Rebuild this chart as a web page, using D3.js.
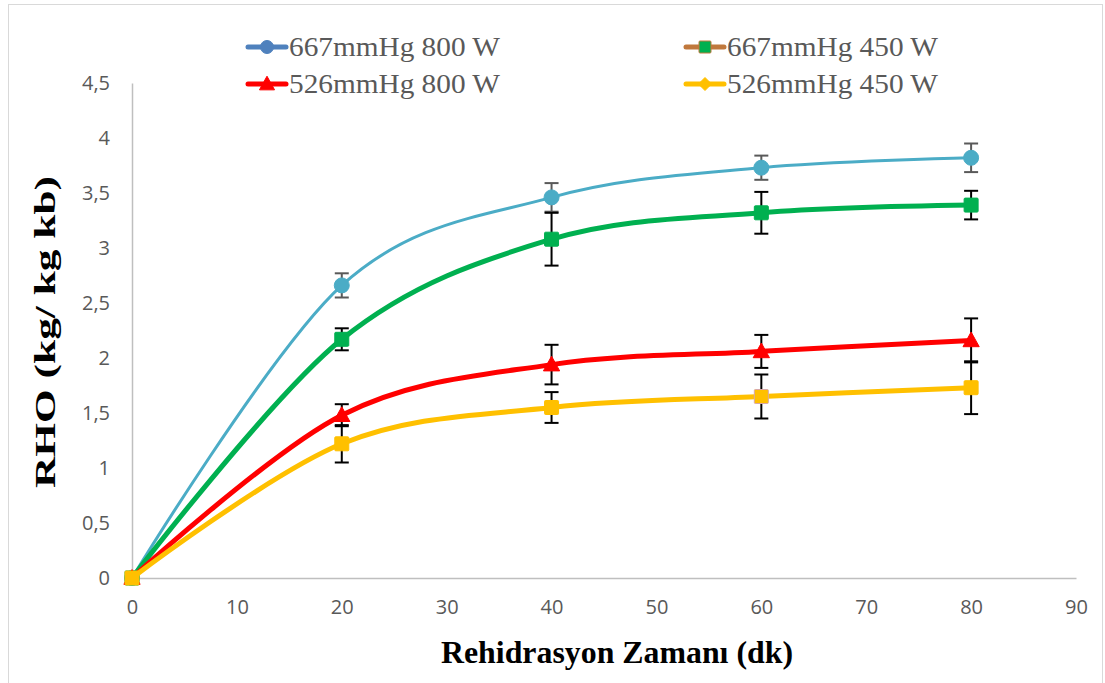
<!DOCTYPE html>
<html>
<head>
<meta charset="utf-8">
<script src="https://cdn.jsdelivr.net/npm/d3@7"></script>
<style>
  html, body { margin: 0; padding: 0; background: #ffffff; }
  svg { display: block; }
</style>
</head>
<body>
<svg id="chart" width="1105" height="683"></svg>
<script>
// Rehydration time (min)
const times = [0, 20, 40, 60, 80];

// RHO values (kg/kg dry basis) and standard deviations per series
const rho667_800 = [0, 2.66, 3.46, 3.73, 3.82];
const sd667_800  = [0, 0.11, 0.13, 0.11, 0.13];
const rho667_450 = [0, 2.17, 3.08, 3.32, 3.39];
const sd667_450  = [0, 0.10, 0.24, 0.19, 0.13];
const rho526_800 = [0, 1.48, 1.94, 2.06, 2.16];
const sd526_800  = [0, 0.10, 0.18, 0.15, 0.20];
const rho526_450 = [0, 1.22, 1.55, 1.65, 1.73];
const sd526_450  = [0, 0.17, 0.14, 0.20, 0.24];

const seriesNames = ["667mmHg 800 W", "667mmHg 450 W", "526mmHg 800 W", "526mmHg 450 W"];

const xTicks = [0, 10, 20, 30, 40, 50, 60, 70, 80, 90];
const yTicks = [0, 0.5, 1, 1.5, 2, 2.5, 3, 3.5, 4, 4.5];
const yTickLabels = ["0", "0,5", "1", "1,5", "2", "2,5", "3", "3,5", "4", "4,5"];

const series = [
  { name: seriesNames[0], values: rho667_800, sd: sd667_800, color: "#4BACC6", width: 3, marker: "circle", errColor: "#595959",
    legendLine: "#4F81BD", legendFill: "#4F81BD", legendStroke: "#4F81BD", legendMarker: "circle" },
  { name: seriesNames[1], values: rho667_450, sd: sd667_450, color: "#00B050", width: 5, marker: "square", errColor: "#000000",
    legendLine: "#C0783C", legendFill: "#00B050", legendStroke: "#C0783C", legendMarker: "square" },
  { name: seriesNames[2], values: rho526_800, sd: sd526_800, color: "#FF0000", width: 5, marker: "triangle", errColor: "#000000",
    legendLine: "#FF0000", legendFill: "#FF0000", legendStroke: "#FF0000", legendMarker: "triangle" },
  { name: seriesNames[3], values: rho526_450, sd: sd526_450, color: "#FFC000", width: 5, marker: "square", errColor: "#000000",
    legendLine: "#FFC000", legendFill: "#FFC000", legendStroke: "#FFC000", legendMarker: "diamond" }
];

const svg = d3.select("#chart");

// outer chart frame
svg.append("rect")
  .attr("x", 8.5).attr("y", 4.5)
  .attr("width", 1094).attr("height", 690)
  .attr("fill", "none").attr("stroke", "#D9D9D9").attr("stroke-width", 1);

const x = d3.scaleLinear().domain([0, 90]).range([132, 1076]);
const y = d3.scaleLinear().domain([0, 4.5]).range([578, 83]);

const tickFont = "'Open Sans', 'Noto Sans', sans-serif";
const serif = "'Liberation Serif', 'DejaVu Serif', serif";

// axes
const xAxis = d3.axisBottom(x).tickValues(xTicks).tickSize(0).tickPadding(22)
  .tickFormat(d3.format("d"));
const gx = svg.append("g").attr("transform", `translate(0,${y(0)})`).call(xAxis);
gx.select(".domain").attr("stroke", "#BFBFBF").attr("stroke-width", 1.5);
gx.selectAll("text").attr("font-family", tickFont).attr("font-size", 20).attr("fill", "#595959");

const yAxis = d3.axisLeft(y).tickValues(yTicks).tickSize(0).tickPadding(22)
  .tickFormat((d, i) => yTickLabels[i]);
const gy = svg.append("g").attr("transform", `translate(${x(0)},0)`).call(yAxis);
gy.select(".domain").attr("stroke", "#BFBFBF").attr("stroke-width", 1.5);
gy.selectAll("text").attr("font-family", tickFont).attr("font-size", 20).attr("fill", "#595959");

// axis titles
svg.append("text")
  .attr("x", 617).attr("y", 663)
  .attr("text-anchor", "middle")
  .attr("font-family", serif).attr("font-weight", "bold").attr("font-size", 32)
  .attr("textLength", 352).attr("lengthAdjust", "spacingAndGlyphs")
  .attr("fill", "#000000")
  .text("Rehidrasyon Zamanı (dk)");

svg.append("text")
  .attr("transform", `translate(55,${332}) rotate(-90)`)
  .attr("text-anchor", "middle")
  .attr("font-family", serif).attr("font-weight", "bold").attr("font-size", 30)
  .attr("textLength", 312).attr("lengthAdjust", "spacingAndGlyphs")
  .attr("fill", "#000000")
  .text("RHO (kg/ kg kb)");

// marker drawing
function drawMarker(g, type, cx, cy, size, fill, stroke) {
  if (type === "circle") {
    g.append("circle").attr("cx", cx).attr("cy", cy).attr("r", size / 2)
      .attr("fill", fill).attr("stroke", stroke).attr("stroke-width", 1);
  } else if (type === "square") {
    g.append("rect").attr("x", cx - size / 2).attr("y", cy - size / 2)
      .attr("width", size).attr("height", size).attr("rx", 1)
      .attr("fill", fill).attr("stroke", stroke).attr("stroke-width", 1);
  } else if (type === "triangle") {
    const h = size;
    g.append("path")
      .attr("d", `M${cx},${cy - h * 0.6}L${cx + size * 0.58},${cy + h * 0.45}L${cx - size * 0.58},${cy + h * 0.45}Z`)
      .attr("fill", fill).attr("stroke", stroke).attr("stroke-width", 1);
  } else if (type === "diamond") {
    g.append("path")
      .attr("d", `M${cx},${cy - size / 2}L${cx + size / 2},${cy}L${cx},${cy + size / 2}L${cx - size / 2},${cy}Z`)
      .attr("fill", fill).attr("stroke", stroke).attr("stroke-width", 1);
  }
}

const line = d3.line()
  .x((d, i) => x(times[i]))
  .y(d => y(d))
  .curve(d3.curveCardinal.tension(0));

const plot = svg.append("g");

series.forEach((s, si) => {
  const g = plot.append("g");
  // smoothed line
  g.append("path")
    .datum(s.values)
    .attr("d", line)
    .attr("fill", "none")
    .attr("stroke", s.color)
    .attr("stroke-width", s.width)
    .attr("stroke-linejoin", "round")
    .attr("stroke-linecap", "round");

  // error bars
  s.values.forEach((v, i) => {
    if (s.sd[i] <= 0) return;
    const cx = x(times[i]);
    const y1 = y(v + s.sd[i]);
    const y2 = y(v - s.sd[i]);
    g.append("line").attr("x1", cx).attr("x2", cx).attr("y1", y1).attr("y2", y2)
      .attr("stroke", s.errColor).attr("stroke-width", 2);
    [y1, y2].forEach(yy => {
      g.append("line").attr("x1", cx - 7).attr("x2", cx + 7).attr("y1", yy).attr("y2", yy)
        .attr("stroke", s.errColor).attr("stroke-width", 2);
    });
  });

  // markers
  s.values.forEach((v, i) => {
    const cx = x(times[i]);
    const cy = y(v);
    let stroke = s.color;
    if (si === 3 && i === 3) stroke = "#D8A8A8";
    const size = s.marker === "circle" ? 15 : 14;
    drawMarker(g, s.marker, cx, cy, size, s.color, stroke);
  });
});

// legend
const legendPos = [
  { lx: 248, ty: 47 }, { lx: 686, ty: 47 },
  { lx: 248, ty: 84 }, { lx: 686, ty: 84 }
];
series.forEach((s, i) => {
  const p = legendPos[i];
  const g = svg.append("g");
  g.append("line").attr("x1", p.lx).attr("x2", p.lx + 38).attr("y1", p.ty).attr("y2", p.ty)
    .attr("stroke", s.legendLine).attr("stroke-width", 5).attr("stroke-linecap", "round");
  const msize = s.legendMarker === "square" ? 12 : 13;
  drawMarker(g, s.legendMarker, p.lx + 19, p.ty, msize, s.legendFill, s.legendStroke);
  g.append("text")
    .attr("x", p.lx + 41).attr("y", p.ty + 9)
    .attr("font-family", serif).attr("font-size", 28)
    .attr("textLength", 211).attr("lengthAdjust", "spacingAndGlyphs")
    .attr("fill", "#595959")
    .text(s.name);
});
</script>
</body>
</html>
